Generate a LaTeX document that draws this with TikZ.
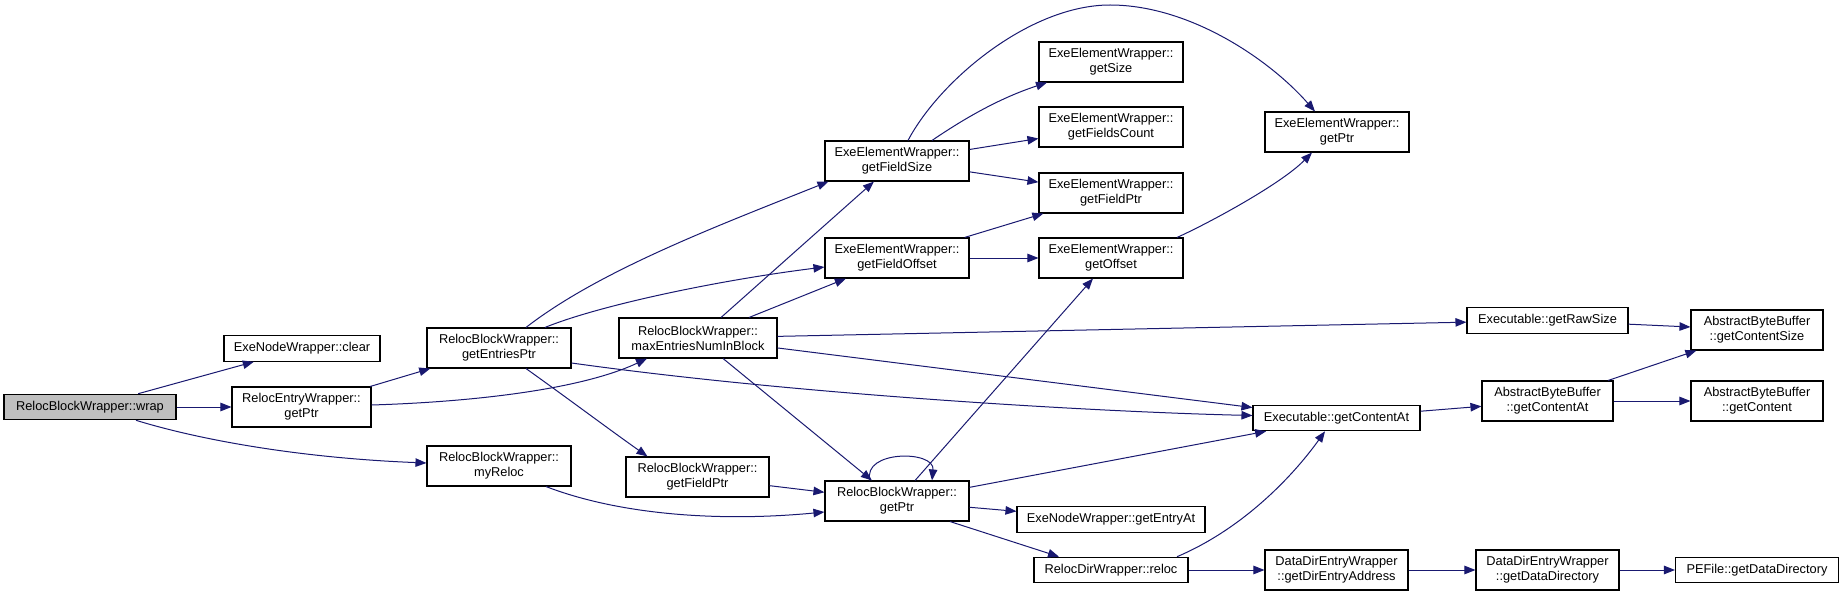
\documentclass[tikz,border=0pt]{standalone}
\usepackage{fontspec}
\setmainfont{Liberation Sans}
\usetikzlibrary{arrows.meta}
\definecolor{edgeblue}{HTML}{191970}
\definecolor{rootgray}{HTML}{BFBFBF}
\begin{document}
\begin{tikzpicture}[x=1pt,y=-1pt,
  fn/.style={draw=black, line width=1.1pt, fill=white, inner sep=0pt, align=center,
    font=\fontsize{12.8}{15}\selectfont, minimum height=40pt, minimum width=144pt},
  fnone/.style={fn, minimum height=25.5pt},
  call/.style={draw=edgeblue, line width=1pt, -{Triangle[length=11pt,width=8.5pt]}},
]
\useasboundingbox (0,0) rectangle (1844,596);

\node[fnone, fill=rootgray, minimum width=172pt] (wrap) at (90,407) {RelocBlockWrapper::wrap};
\node[fnone, minimum width=156pt] (clear) at (302,348.5) {ExeNodeWrapper::clear};
\node[fn, minimum width=139pt] (rewptr) at (301.5,407) {RelocEntryWrapper::\\getPtr};
\node[fn] (entries) at (499,348) {RelocBlockWrapper::\\getEntriesPtr};
\node[fn] (myreloc) at (499,466) {RelocBlockWrapper::\\myReloc};
\node[fn, minimum width=158pt] (maxent) at (698,338) {RelocBlockWrapper::\\maxEntriesNumInBlock};
\node[fn, minimum width=143pt] (rbwfield) at (697.5,477) {RelocBlockWrapper::\\getFieldPtr};
\node[fn] (fsize) at (897,161) {ExeElementWrapper::\\getFieldSize};
\node[fn] (foffset) at (897,258) {ExeElementWrapper::\\getFieldOffset};
\node[fn] (rbwptr) at (897,501) {RelocBlockWrapper::\\getPtr};
\node[fn] (getsize) at (1111,62) {ExeElementWrapper::\\getSize};
\node[fn] (fcount) at (1111,127) {ExeElementWrapper::\\getFieldsCount};
\node[fn] (eewfield) at (1111,193) {ExeElementWrapper::\\getFieldPtr};
\node[fn] (offset) at (1111,258) {ExeElementWrapper::\\getOffset};
\node[fnone, minimum width=188pt] (entryat) at (1111,519.5) {ExeNodeWrapper::getEntryAt};
\node[fnone, minimum width=154pt] (reloc) at (1111,570) {RelocDirWrapper::reloc};
\node[fn] (eewptr) at (1337,132) {ExeElementWrapper::\\getPtr};
\node[fnone, minimum width=167pt] (execa) at (1336.5,418) {Executable::getContentAt};
\node[fn, minimum width=143pt] (direntry) at (1336.5,570) {DataDirEntryWrapper\\::getDirEntryAddress};
\node[fnone, minimum width=161pt] (rawsize) at (1547.5,320.5) {Executable::getRawSize};
\node[fn, minimum width=131pt] (abbca) at (1547.5,401) {AbstractByteBuffer\\::getContentAt};
\node[fn, minimum width=143pt] (datadir) at (1547.5,570) {DataDirEntryWrapper\\::getDataDirectory};
\node[fn, minimum width=132pt] (csize) at (1757,330) {AbstractByteBuffer\\::getContentSize};
\node[fn, minimum width=132pt] (content) at (1757,401) {AbstractByteBuffer\\::getContent};
\node[fnone, minimum width=163pt] (pefile) at (1757,570) {PEFile::getDataDirectory};

% straight calls
\draw[call] (wrap) -- (clear);
\draw[call] (wrap) -- (rewptr);
\draw[call] (rewptr) -- (entries);
\draw[call] (maxent) -- (fsize);
\draw[call] (maxent) -- (foffset);
\draw[call] (maxent) -- (rawsize);
\draw[call] (maxent) -- (execa);
\draw[call] (maxent) -- (rbwptr);
\draw[call] (rbwfield) -- (rbwptr);
\draw[call] (rbwptr) -- (offset);
\draw[call] (rbwptr) -- (execa);
\draw[call] (rbwptr) -- (entryat);
\draw[call] (fsize) -- (fcount);
\draw[call] (fsize) -- (eewfield);
\draw[call] (foffset) -- (eewfield);
\draw[call] (foffset) -- (offset);
\draw[call] (reloc) -- (direntry);
\draw[call] (rawsize) -- (csize);
\draw[call] (execa) -- (abbca);
\draw[call] (abbca) -- (csize);
\draw[call] (abbca) -- (content);
\draw[call] (direntry) -- (datadir);
\draw[call] (datadir) -- (pefile);

% curved / offset calls
\draw[call] ([xshift=46pt]wrap.south) .. controls (200,440) and (300,458) .. ([yshift=3pt]myreloc.west);
\draw[call] ([yshift=2pt]rewptr.east) .. controls (470,402) and (580,390) .. ([xshift=-51pt]maxent.south);
\draw[call] ([xshift=27pt]entries.north) .. controls (600,270) and (720,225) .. ([xshift=4pt]fsize.south west);
\draw[call] ([xshift=46pt]entries.north) .. controls (600,305) and (720,280) .. ([yshift=-9pt]foffset.west);
\draw[call] ([xshift=27pt]entries.south) .. controls (570,400) and (610,430) .. ([xshift=-50pt]rbwfield.north);
\draw[call] ([yshift=-15pt]entries.east) .. controls (800,395) and (1100,412) .. ([yshift=2.5pt]execa.west);
\draw[call] ([xshift=47pt]myreloc.south) .. controls (620,515) and (720,522) .. ([yshift=-11pt]rbwptr.west);
\draw[call] ([xshift=11pt]fsize.north) .. controls (940,80) and (1030,5) .. (1110,5)
  .. controls (1190,5) and (1270,60) .. ([xshift=-22pt]eewptr.north);
\draw[call] ([xshift=35pt]fsize.north) .. controls (965,118) and (1000,98) .. ([xshift=-64pt]getsize.south);
\draw[call] ([xshift=66pt]offset.north) .. controls (1205,225) and (1280,185) .. ([xshift=-25pt]eewptr.south);
\draw[call] ([xshift=66pt]reloc.north) .. controls (1240,530) and (1290,480) .. ([xshift=-11.5pt]execa.south);
\draw[call] ([xshift=53pt]rbwptr.south) -- ([xshift=-52pt]reloc.north);
\draw[call] ([xshift=-27pt]rbwptr.north) .. controls (862,450) and (935,450) .. ([xshift=35pt]rbwptr.north);
\end{tikzpicture}
\end{document}
